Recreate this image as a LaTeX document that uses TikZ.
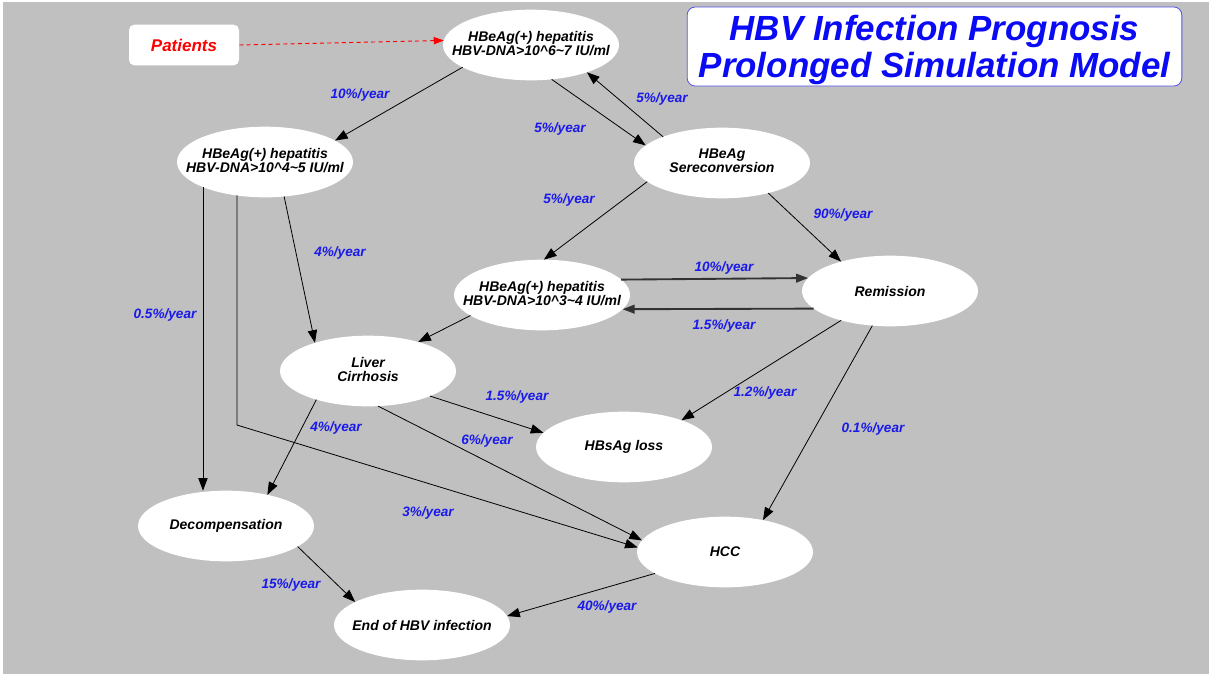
\documentclass[tikz,border=0pt]{standalone}
\usepackage{fontspec}
\setmainfont{Liberation Sans}
\usetikzlibrary{shapes.geometric,arrows.meta}
\definecolor{bg}{RGB}{192,192,192}
\definecolor{lblblue}{RGB}{25,25,235}
\definecolor{ttlblue}{RGB}{10,10,245}
\definecolor{ttlborder}{RGB}{80,80,230}
\definecolor{thickgray}{RGB}{50,50,50}
\newcommand\twolines[2]{\makebox[0pt]{\begin{tabular}{@{}c@{}}#1\\#2\end{tabular}}}
\newcommand\oneline[1]{\makebox[0pt]{#1}}
\begin{document}
\begin{tikzpicture}[x=0.75pt,y=-0.75pt,
  state/.style={ellipse, fill=white, draw=none, inner sep=0pt, outer sep=0pt,
    minimum width=132pt, minimum height=53pt,
    font=\bfseries\itshape\fontsize{10.5}{10}\selectfont},
  rate/.style={text=lblblue, inner sep=0pt,
    font=\bfseries\itshape\fontsize{10.2}{12}\selectfont},
  flow/.style={draw=black, line width=0.6pt, -{Triangle[length=9.5pt,width=7pt]}},
  boldflow/.style={draw=thickgray, line width=1.4pt, -{Triangle[length=9pt,width=6.5pt]}},
]
\fill[white] (0,0) rectangle (1209,676);
\fill[bg] (3,2) rectangle (1209,674);
\useasboundingbox (0,0) rectangle (1209,676);

% title
\node[draw=ttlborder, line width=0.6pt, fill=white, rounded corners=6pt,
  minimum width=371pt, minimum height=59.25pt, inner sep=0pt, text=ttlblue,
  text depth=0pt,
  font=\bfseries\itshape\fontsize{26.2}{27.5}\selectfont, align=center]
  (title) at (934.5,46.5) {HBV Infection Prognosis\\Prolonged Simulation Model};

% patients
\node[fill=white, rounded corners=4pt, minimum width=82.5pt, minimum height=30.5pt,
  inner sep=0pt, text=red, font=\bfseries\itshape\fontsize{12.75}{14}\selectfont]
  (pat) at (184,45) {Patients};

% states
\node[state] (N1) at (531,45) {\twolines{HBeAg(+) hepatitis}{HBV-DNA>10\textasciicircum 6\textasciitilde 7 IU/ml}};
\node[state] (N2) at (265,162) {\twolines{HBeAg(+) hepatitis}{HBV-DNA>10\textasciicircum 4\textasciitilde 5 IU/ml}};
\node[state] (SC) at (722,163) {\twolines{HBeAg}{Sereconversion}};
\node[state] (N3) at (542,295) {\twolines{HBeAg(+) hepatitis}{HBV-DNA>10\textasciicircum 3\textasciitilde 4 IU/ml}};
\node[state] (Rem) at (890,291) {\oneline{Remission}};
\node[state] (LC) at (368,371) {\twolines{Liver}{Cirrhosis}};
\node[state] (HBs) at (624,447) {\oneline{HBsAg loss}};
\node[state] (Dec) at (226,526) {\oneline{Decompensation}};
\node[state] (HCC) at (725,552) {\oneline{HCC}};
\node[state] (End) at (422,625) {\oneline{End of HBV infection}};

% connectors
\draw[red, line width=0.7pt, dash pattern=on 3pt off 2.5pt, -{Triangle[length=7.5pt,width=5.5pt]}] (pat.east) -- (N1.177);
\draw[flow] (N1.198) -- (N2.17);
\draw[flow] (N1.301) -- (SC.167);
\draw[flow] (SC.156) -- (N1.334);
\draw[flow] (SC.194) -- (N3.87);
\draw[flow] (SC.327) -- (Rem.149);
\draw[boldflow] (N3.11.5) -- (Rem.171.8);
\draw[boldflow] (Rem.193.4) -- (N3.350.2);
\draw[flow] (N3.196) -- (LC.30);
\draw[flow] (N2.299) -- (LC.152);
\draw[flow] (N2.202) -- (N2.202 |- Dec.north);
\coordinate (kink) at (237,425);
\draw[flow] (N2.230) -- (N2.230 |- kink) -- (HCC.177);
\draw[flow] (LC.209) -- (Dec.37);
\draw[flow] (LC.338) -- (HBs.170);
\draw[flow] (LC.286) -- (HCC.172);
\draw[flow] (Rem.211) -- (HBs.25);
\draw[flow] (Rem.243) -- (HCC.40);
\draw[flow] (Dec.344.5) -- (End.161.6);
\draw[flow] (HCC.197) -- (End.6.6);

% rates
\node[rate] (r1) at (360,95) {10\%/year};
\node[rate] (r2) at (560,129) {5\%/year};
\node[rate] (r3) at (662,99) {5\%/year};
\node[rate] (r4) at (569,200) {5\%/year};
\node[rate] (r5) at (843,215) {90\%/year};
\node[rate] (r6) at (724,268) {10\%/year};
\node[rate] (r7) at (724,326) {1.5\%/year};
\node[rate] (r8) at (340,253) {4\%/year};
\node[rate] (r9) at (165,315) {0.5\%/year};
\node[rate] (r10) at (336,428) {4\%/year};
\node[rate] (r11) at (517,397) {1.5\%/year};
\node[rate] (r12) at (765,393) {1.2\%/year};
\node[rate] (r13) at (487,441) {6\%/year};
\node[rate] (r14) at (873,429) {0.1\%/year};
\node[rate] (r15) at (428,513) {3\%/year};
\node[rate] (r16) at (291,585) {15\%/year};
\node[rate] (r17) at (607,607) {40\%/year};
\end{tikzpicture}
\end{document}
